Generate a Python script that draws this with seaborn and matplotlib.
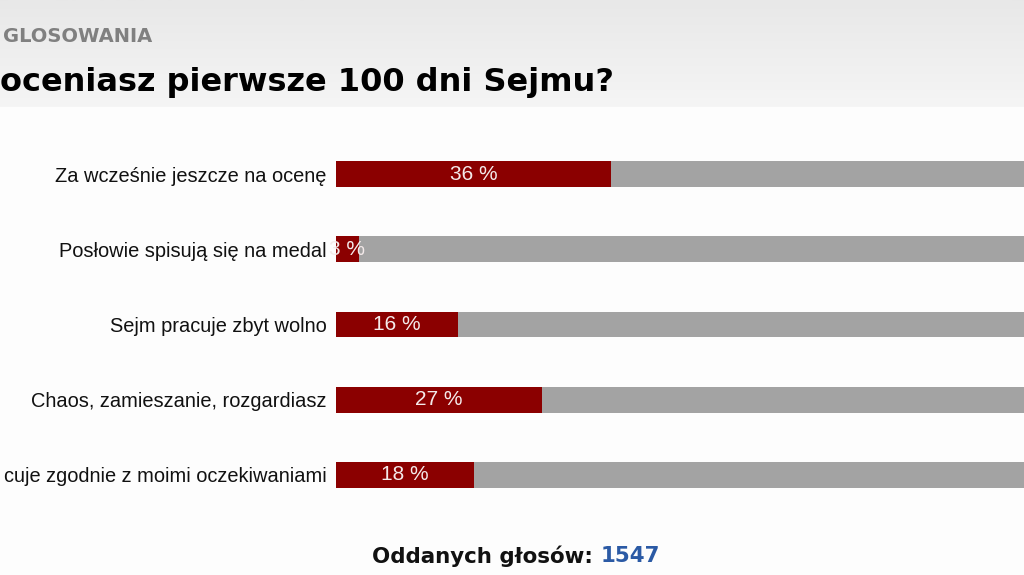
import numpy as np
import pandas as pd
import seaborn as sns
import matplotlib.pyplot as plt

# dane z ankiety
odpowiedzi = ['Za wcześnie jeszcze na ocenę',
              'Posłowie spisują się na medal',
              'Sejm pracuje zbyt wolno',
              'Chaos, zamieszanie, rozgardiasz',
              'cuje zgodnie z moimi oczekiwaniami']
procenty = [36, 3, 16, 27, 18]
calosc = [100, 100, 100, 100, 100]
glosy = 1547

df = pd.DataFrame({'odp': odpowiedzi, 'proc': procenty, 'calosc': calosc})

sns.set_theme(style='white')
plt.rcParams['font.family'] = ['Liberation Sans', 'DejaVu Sans']

fig = plt.figure(figsize=(10.24, 5.75), dpi=100)
fig.patch.set_facecolor('#fdfdfd')

# naglowek z gradientem
hdr = fig.add_axes([0, 1 - 107/575, 1, 107/575])
grad = np.linspace(0, 1, 100).reshape(-1, 1)
hdr.imshow(grad, aspect='auto', cmap=plt.matplotlib.colors.LinearSegmentedColormap.from_list(
    'g', ['#e8e8e8', '#f5f5f5']), extent=[0, 1, 0, 1])
hdr.set_axis_off()

ax = fig.add_axes([336/1024, 0, 1 - 336/1024, 1 - 110/575])
ax.set_facecolor('#fdfdfd')

sns.barplot(data=df, y='odp', x='calosc', color='#a3a3a3', width=0.345,
            orient='h', ax=ax, saturation=1, linewidth=0)
sns.barplot(data=df, y='odp', x='proc', color='#8b0000', width=0.345,
            orient='h', ax=ax, saturation=1, linewidth=0)

for i, v in enumerate(procenty):
    ax.text(v / 2, i, f'{v} %', color='#f4eaea', ha='center', va='center',
            fontsize=15)

ax.set_xlim(0, 688 / 7.64)
y_top = (110 - 174) / 75.25
y_bot = (575 - 174) / 75.25
ax.set_ylim(y_bot, y_top)
ax.set_xlabel('')
ax.set_ylabel('')
ax.set_xticks([])
ax.tick_params(axis='y', length=0, pad=7, labelsize=14.4, labelcolor='#111111')
for s in ax.spines.values():
    s.set_visible(False)

fig.text(3/1024, 1 - 36/575, 'GLOSOWANIA', color='#808080', fontsize=14,
         fontweight='bold', family='DejaVu Sans', va='center', ha='left')
fig.text(0, 1 - 82/575, 'oceniasz pierwsze 100 dni Sejmu?', color='black',
         fontsize=23, fontweight='bold', family='DejaVu Sans', va='center', ha='left')

t = fig.text(372/1024, 1 - 556/575, 'Oddanych głosów: ', color='#111111', fontsize=15.4,
             fontweight='bold', family='DejaVu Sans', va='center', ha='left')
fig.canvas.draw()
bb = t.get_window_extent()
fig.text(bb.x1 / fig.bbox.width, 1 - 556/575, str(glosy), color='#2b5aa5', fontsize=15.4,
         fontweight='bold', family='DejaVu Sans', va='center', ha='left')

fig.savefig('out.png', dpi=100, facecolor=fig.get_facecolor())
